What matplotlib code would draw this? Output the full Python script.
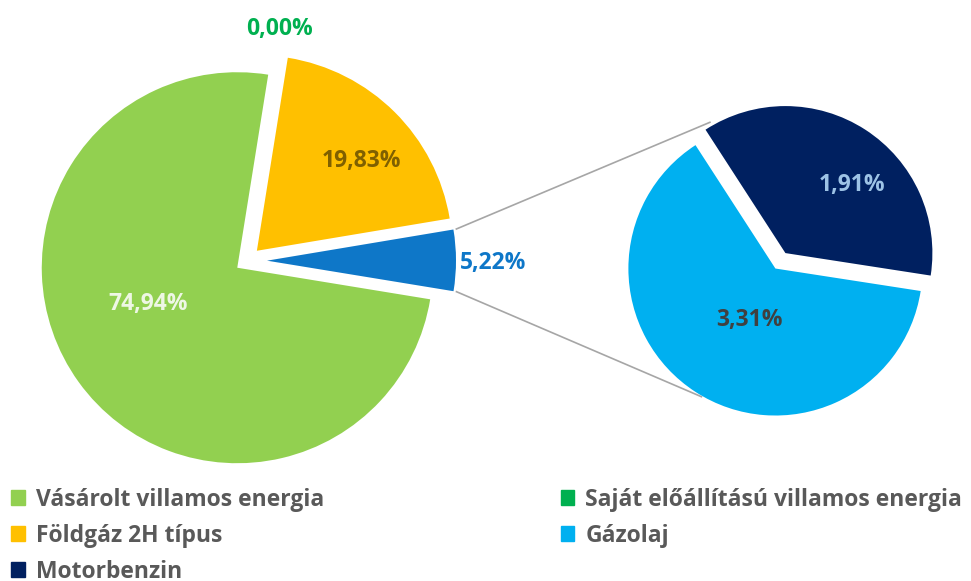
import numpy as np
import matplotlib.pyplot as plt
from matplotlib.patches import Patch

# main pie (clockwise, Excel order)
main_labels = ['Vásárolt villamos energia', 'Saját előállítású villamos energia',
               'Földgáz 2H típus', 'Gázolaj + Motorbenzin']
main_vals = [74.94, 0.00, 19.83, 5.22]
main_colors = ['#92d050', '#00b050', '#ffc000', '#0e77c8']

# secondary pie (split of the 5,22%)
sub_labels = ['Gázolaj', 'Motorbenzin']
sub_vals = [3.31, 1.91]
sub_colors = ['#00b0f0', '#002060']

fig = plt.figure(figsize=(9.71, 5.81), dpi=100)
ax = fig.add_axes([0, 0, 1, 1])

font = 'Open Sans'

# explode is in data units here (radius != 1)
w_main, _ = ax.pie(main_vals, colors=main_colors, startangle=-9.3, counterclock=False,
                   explode=[12, 12, 14, 20], radius=195.5, center=(247, 320.3),
                   wedgeprops=dict(linewidth=0))
w_main[3].set_radius(189)  # the split slice is drawn a bit smaller
w_sub, _ = ax.pie(sub_vals, colors=sub_colors, startangle=-8.8, counterclock=False,
                  explode=[9.2, 9.2], radius=147, center=(780.4, 320.2),
                  wedgeprops=dict(linewidth=0))

ax.set_xlim(0, 971)
ax.set_ylim(0, 581)
ax.set_aspect('equal')
ax.axis('off')


def pt(w, ang, extra=0):
    a = np.deg2rad(ang)
    return np.array(w.center) + (w.r + extra) * np.array([np.cos(a), np.sin(a)])


# connector lines from the blue slice to the small pie
blue = w_main[3]
p_top = pt(blue, blue.theta2, 3)
p_bot = pt(blue, blue.theta1, 3)
q_top = pt(w_sub[1], 120, 4)
q_bot = pt(w_sub[0], 240, 1)
ax.plot([p_top[0], q_top[0]], [p_top[1], q_top[1]], color='#a6a6a6', lw=1.2, zorder=0)
ax.plot([p_bot[0], q_bot[0]], [p_bot[1], q_bot[1]], color='#a6a6a6', lw=1.2, zorder=0)

# percentage labels
pct = [
    ('74,94%', 148.5, 304, '#eef7e4'),
    ('0,00%', 279, 29, '#00b050'),
    ('19,83%', 361, 161.5, '#7f6000'),
    ('5,22%', 493, 263, '#0e77c8'),
    ('1,91%', 852, 185, '#9dc3e6'),
    ('3,31%', 749, 320, '#404040'),
]
for s, x, y, c in pct:
    ax.text(x, 581 - y, s, color=c, fontsize=16.5, fontweight='bold', family=font,
            ha='center', va='center')

# legend, two columns filled row by row
leg_names = ['Vásárolt villamos energia', 'Földgáz 2H típus', 'Motorbenzin',
             'Saját előállítású villamos energia', 'Gázolaj']
leg_colors = ['#92d050', '#ffc000', '#002060', '#00b050', '#00b0f0']
handles = [Patch(color=c, label=n) for n, c in zip(leg_names, leg_colors)]
leg = fig.legend(handles=handles, ncol=2, loc='upper left', bbox_to_anchor=(0.0, 0.1805),
                 frameon=False, handlelength=0.6, handleheight=0.6, handletextpad=0.48,
                 columnspacing=10.3, labelspacing=0.526, borderpad=0.2, borderaxespad=0.3,
                 prop=dict(family=font, weight='bold', size=16.5))
for t in leg.get_texts():
    t.set_color('#595959')

fig.savefig('out.png', dpi=100)
